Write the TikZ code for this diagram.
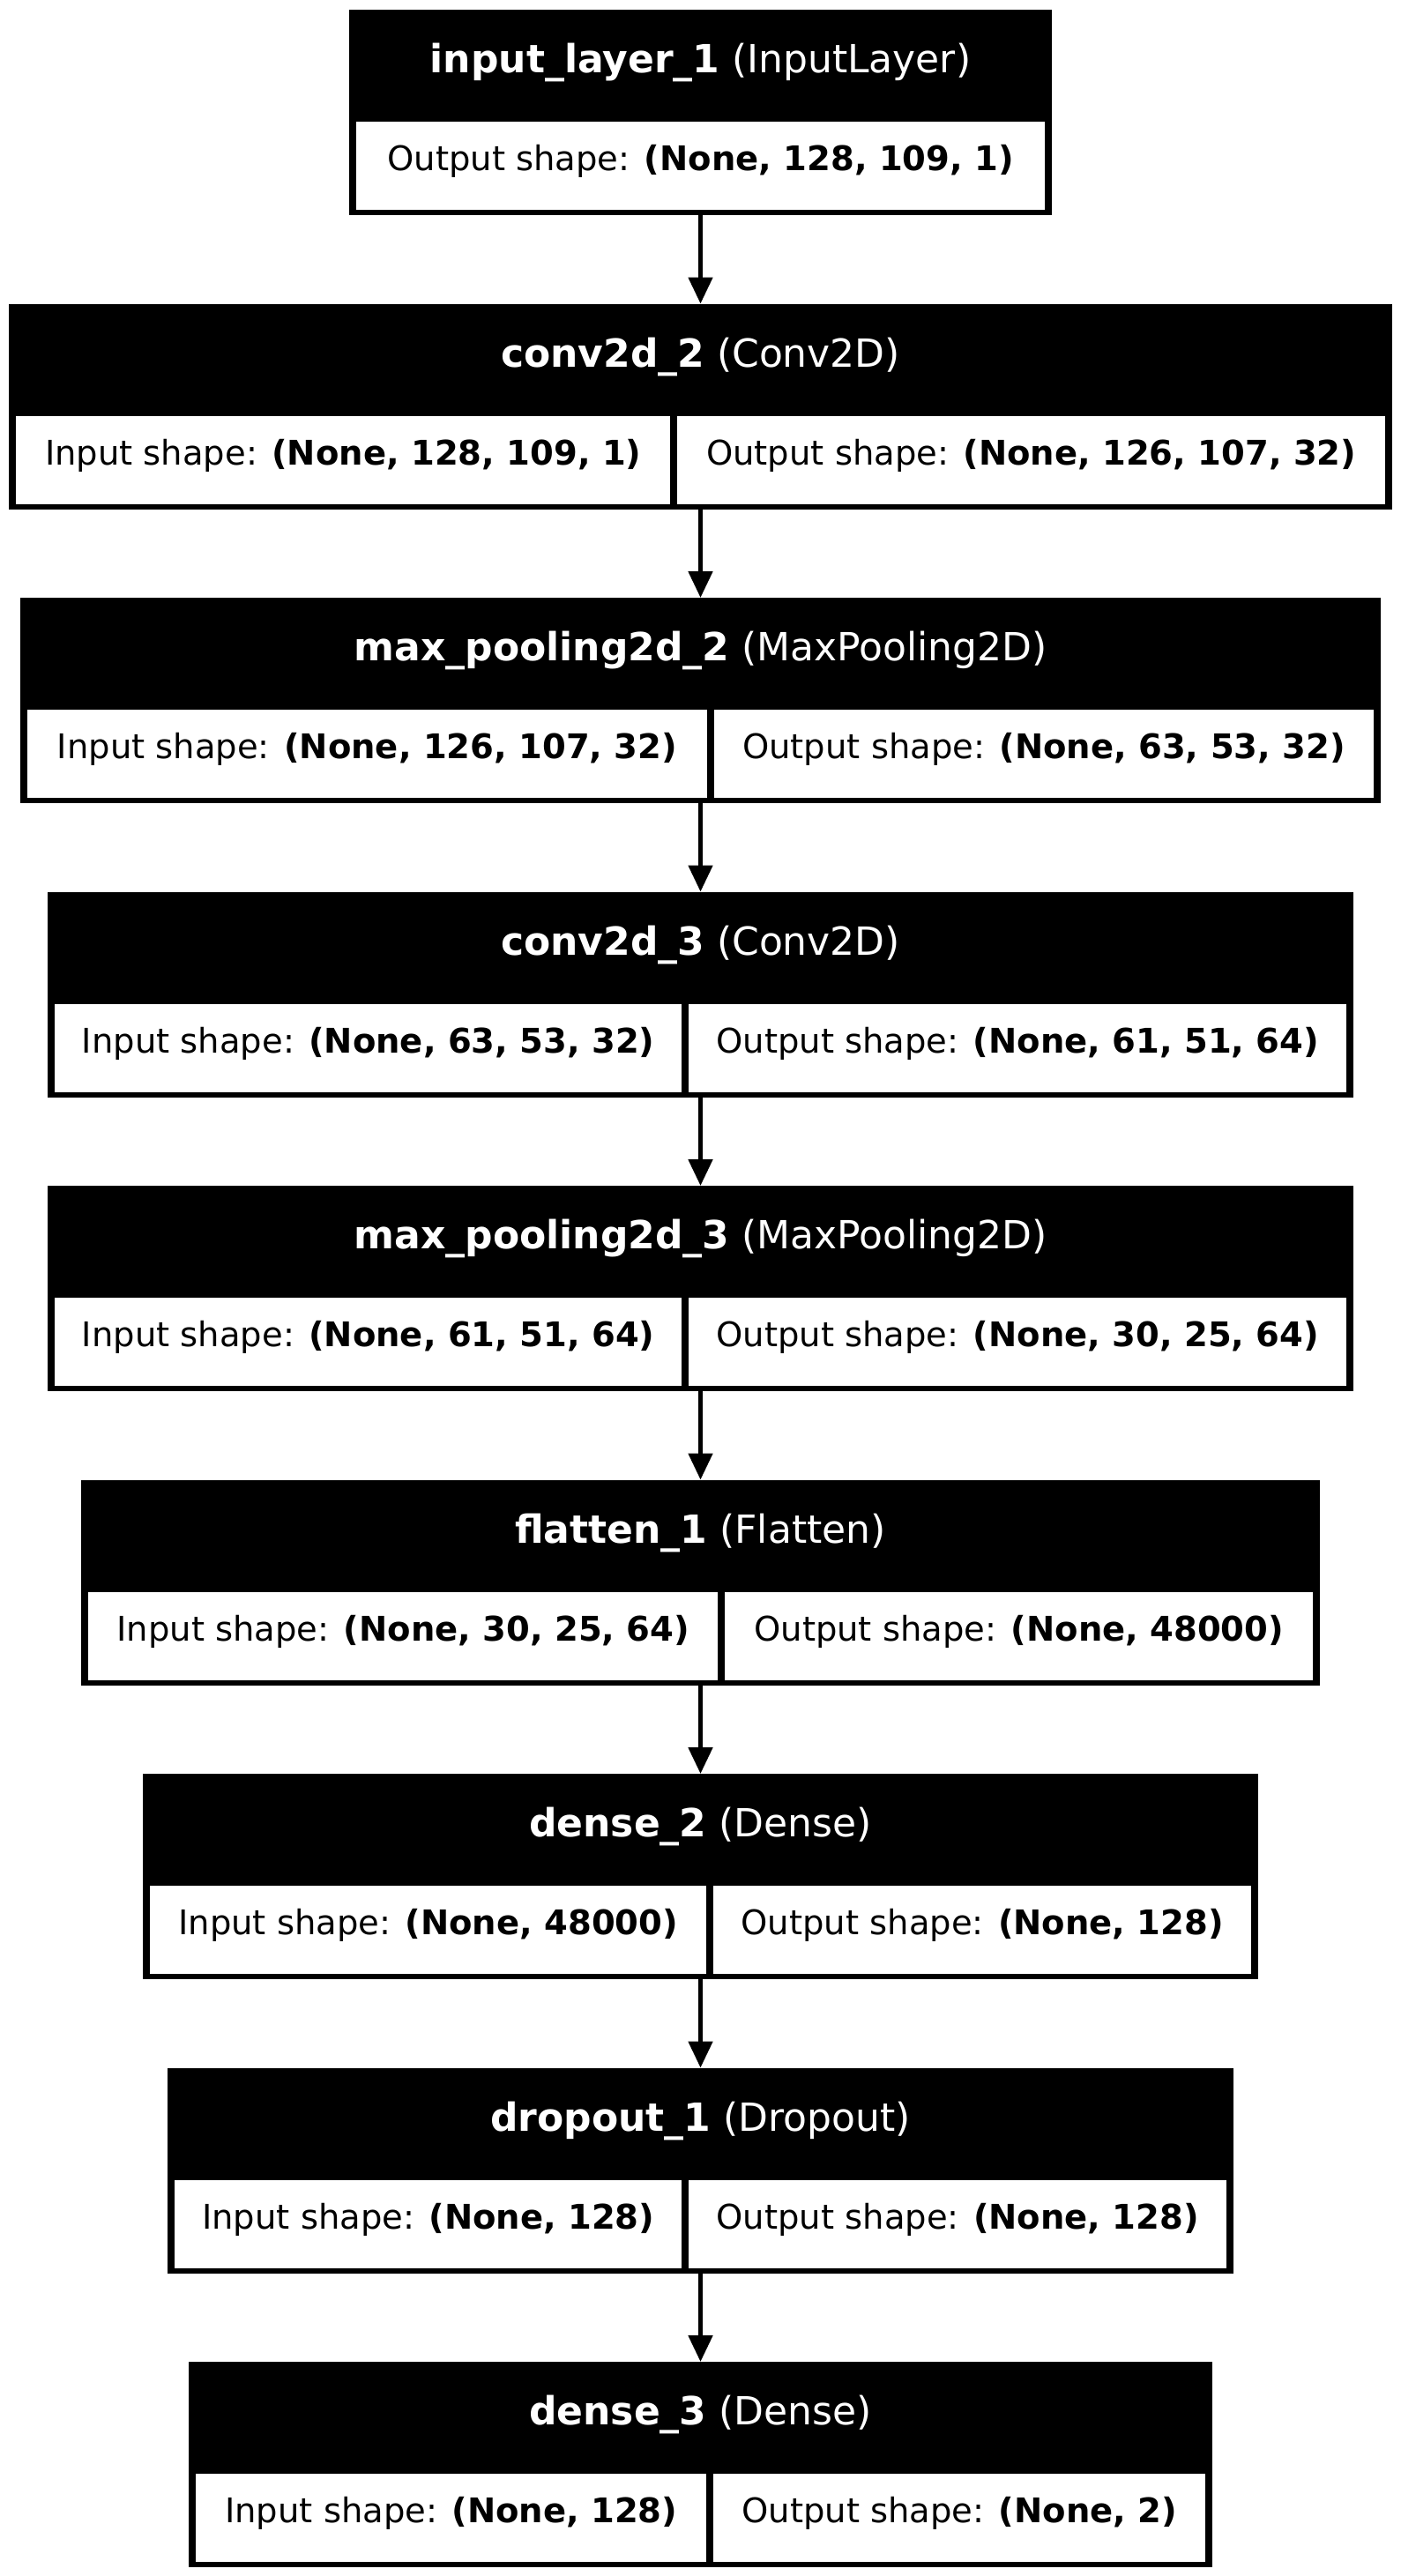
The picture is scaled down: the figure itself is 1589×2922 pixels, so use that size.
\documentclass[tikz,border=0pt]{standalone}
\usepackage{fontspec}
\setmainfont{DejaVu Sans}
\usetikzlibrary{arrows.meta}
\newcommand\layerfont{\fontsize{44}{53}\selectfont}
\newcommand\shapefont{\fontsize{38.5}{46}\selectfont}
\tikzset{
  layerbox/.style={fill=black,draw=none,inner sep=0pt,anchor=north,
                   minimum height=233pt},
  layertitle/.style={text=white,font=\layerfont,inner sep=0pt},
  shapecell/.style={fill=white,draw=none,inner sep=0pt,anchor=north west,
                    minimum height=100pt,font=\shapefont,
                    text height=29pt,text depth=18pt},
  flow/.style={-{Triangle[length=30pt,width=27pt]},line width=5pt}
}
\begin{document}
\begin{tikzpicture}[x=1pt,y=-1pt]
    \path[use as bounding box] (0,0) rectangle (1589,2922);
    % input_layer_1
    \node[layerbox,minimum width=797pt] (inp) at (794.5,11) {};
    \node[layertitle] (inp-t) at (794.5,71) {\textbf{input\_layer\_1} (InputLayer)};
    \node[shapecell,minimum width=781pt] (inp-o) at (404,138)
      {Output shape: \textbf{(None, 128, 109, 1)}};
    % conv2d_2
    \node[layerbox,minimum width=1569pt] (cva) at (794.5,344.5) {};
    \node[layertitle] (cva-t) at (794.5,404.5) {\textbf{conv2d\_2} (Conv2D)};
    \node[shapecell,minimum width=742pt] (cva-i) at (18,471.5)
      {Input shape: \textbf{(None, 128, 109, 1)}};
    \node[shapecell,minimum width=803pt] (cva-o) at (768,471.5)
      {Output shape: \textbf{(None, 126, 107, 32)}};
    % max_pooling2d_2
    \node[layerbox,minimum width=1543pt] (mpa) at (794.5,678) {};
    \node[layertitle] (mpa-t) at (794.5,738) {\textbf{max\_pooling2d\_2} (MaxPooling2D)};
    \node[shapecell,minimum width=770.5pt] (mpa-i) at (31,805)
      {Input shape: \textbf{(None, 126, 107, 32)}};
    \node[shapecell,minimum width=748.5pt] (mpa-o) at (809.5,805)
      {Output shape: \textbf{(None, 63, 53, 32)}};
    % conv2d_3
    \node[layerbox,minimum width=1481pt] (cvb) at (794.5,1011.5) {};
    \node[layertitle] (cvb-t) at (794.5,1071.5) {\textbf{conv2d\_3} (Conv2D)};
    \node[shapecell,minimum width=711pt] (cvb-i) at (62,1138.5)
      {Input shape: \textbf{(None, 63, 53, 32)}};
    \node[shapecell,minimum width=746pt] (cvb-o) at (781,1138.5)
      {Output shape: \textbf{(None, 61, 51, 64)}};
    % max_pooling2d_3
    \node[layerbox,minimum width=1481pt] (mpb) at (794.5,1345) {};
    \node[layertitle] (mpb-t) at (794.5,1405) {\textbf{max\_pooling2d\_3} (MaxPooling2D)};
    \node[shapecell,minimum width=711pt] (mpb-i) at (62,1472)
      {Input shape: \textbf{(None, 61, 51, 64)}};
    \node[shapecell,minimum width=746pt] (mpb-o) at (781,1472)
      {Output shape: \textbf{(None, 30, 25, 64)}};
    % flatten_1
    \node[layerbox,minimum width=1405pt] (flat) at (794.5,1678.5) {};
    \node[layertitle] (flat-t) at (794.5,1738.5) {\textbf{flatten\_1} (Flatten)};
    \node[shapecell,minimum width=714pt] (flat-i) at (100,1805.5)
      {Input shape: \textbf{(None, 30, 25, 64)}};
    \node[shapecell,minimum width=667pt] (flat-o) at (822,1805.5)
      {Output shape: \textbf{(None, 48000)}};
    % dense_2
    \node[layerbox,minimum width=1265pt] (dnsa) at (794.5,2012) {};
    \node[layertitle] (dnsa-t) at (794.5,2072) {\textbf{dense\_2} (Dense)};
    \node[shapecell,minimum width=631pt] (dnsa-i) at (170,2139)
      {Input shape: \textbf{(None, 48000)}};
    \node[shapecell,minimum width=610pt] (dnsa-o) at (809,2139)
      {Output shape: \textbf{(None, 128)}};
    % dropout_1
    \node[layerbox,minimum width=1209pt] (drop) at (794.5,2345.5) {};
    \node[layertitle] (drop-t) at (794.5,2405.5) {\textbf{dropout\_1} (Dropout)};
    \node[shapecell,minimum width=575pt] (drop-i) at (198,2472.5)
      {Input shape: \textbf{(None, 128)}};
    \node[shapecell,minimum width=610pt] (drop-o) at (781,2472.5)
      {Output shape: \textbf{(None, 128)}};
    % dense_3
    \node[layerbox,minimum width=1161pt] (dnsb) at (794.5,2679) {};
    \node[layertitle] (dnsb-t) at (794.5,2739) {\textbf{dense\_3} (Dense)};
    \node[shapecell,minimum width=579pt] (dnsb-i) at (222,2806)
      {Input shape: \textbf{(None, 128)}};
    \node[shapecell,minimum width=558pt] (dnsb-o) at (809,2806)
      {Output shape: \textbf{(None, 2)}};
    % edges
    \foreach \a/\b in {inp/cva,cva/mpa,mpa/cvb,cvb/mpb,mpb/flat,flat/dnsa,dnsa/drop,drop/dnsb}
      \draw[flow] (\a.south) -- (\b.north);
\end{tikzpicture}
\end{document}
